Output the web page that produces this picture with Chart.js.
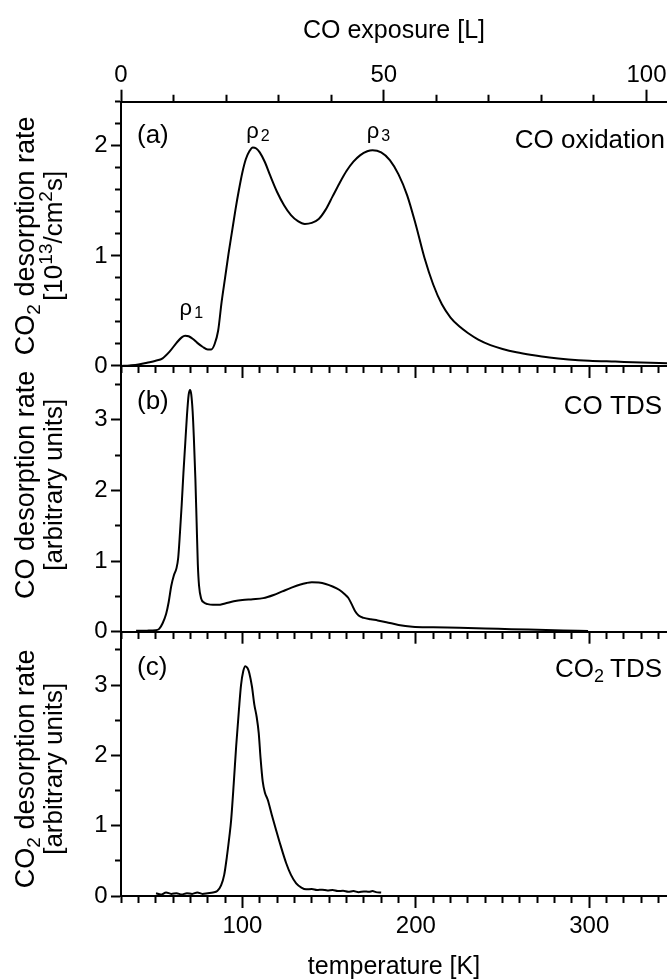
<!DOCTYPE html>
<html><head><meta charset="utf-8">
<script src="https://cdn.jsdelivr.net/npm/chart.js@4.4.0/dist/chart.umd.min.js"></script>
<style>
html,body{margin:0;padding:0;background:#fff;}
#wrap{position:relative;width:667px;height:980px;overflow:hidden;background:#fff;}
canvas{position:absolute;left:0;top:0;}
</style></head><body><div id="wrap">
<canvas id="c1" width="667" height="980"></canvas>
<canvas id="c2" width="667" height="980"></canvas>
<canvas id="c3" width="667" height="980"></canvas>
</div>
<script>
// ---------- data ----------
const oxTemp = [30,35,40,45,50,54,58,62,65,67,69,71.5,74,77,80,82,84,86,88,90,92,94,96,98,100,102,104,106,108,110,113,116,120,124,128,132,136,140,144,148,152,156,160,164,168,172,175,180,185,190,195,200,205,210,215,220,225,230,236,243,250,258,267,277,288,300,315,330,345];
const oxRate = [0,0.005,0.013,0.03,0.048,0.07,0.13,0.21,0.26,0.275,0.27,0.245,0.21,0.175,0.15,0.15,0.20,0.32,0.58,0.80,1.02,1.22,1.42,1.60,1.76,1.88,1.95,1.985,1.975,1.94,1.85,1.73,1.58,1.46,1.37,1.315,1.29,1.30,1.335,1.42,1.54,1.66,1.77,1.855,1.915,1.95,1.96,1.94,1.87,1.74,1.55,1.28,0.98,0.74,0.56,0.44,0.36,0.30,0.24,0.19,0.155,0.125,0.10,0.077,0.06,0.048,0.04,0.032,0.025];

const coTemp = [38.7,45,50,52,54,56,57.5,59,60.5,62,63,64,65,66,67,68,69,69.8,70.5,71.3,72,72.9,73.6,74.3,75,76.2,78,80,83,86,90,95,100,106,112,118,123,128,133,137,140,144,148,152,156,159,161,163,165,167,170,174,178,183,190,198,210,225,240,255,270,285,299.3];
const coRate = [0.012,0.015,0.02,0.04,0.12,0.25,0.42,0.65,0.80,0.90,1.05,1.40,1.80,2.25,2.65,3.05,3.35,3.42,3.36,3.12,2.75,2.15,1.55,0.95,0.65,0.47,0.41,0.39,0.38,0.38,0.40,0.43,0.45,0.46,0.475,0.52,0.57,0.62,0.665,0.69,0.70,0.695,0.675,0.64,0.59,0.53,0.48,0.39,0.29,0.23,0.195,0.175,0.16,0.135,0.095,0.07,0.062,0.055,0.046,0.036,0.027,0.018,0.01];

const co2Temp = [50.2,53,56,59,62,65,68,71,74,77,80,83,85.5,87.7,89.5,91,92.5,93.5,95,96.4,98,99.2,100.5,101.7,103,104,105.5,106.9,108.2,109.4,110.5,111.7,113,114.6,117,119.4,122,125.2,128,131,134,136.7,140,143,146,149,152,155,158,161,164,167,170,173,175,177,180];
const co2Rate = [0.04,0.02,0.05,0.03,0.04,0.02,0.04,0.03,0.05,0.03,0.04,0.05,0.07,0.15,0.30,0.55,0.85,1.08,1.6,2.13,2.65,3.0,3.2,3.27,3.24,3.17,2.98,2.72,2.55,2.32,1.95,1.63,1.47,1.37,1.15,0.94,0.72,0.47,0.30,0.18,0.12,0.095,0.10,0.085,0.09,0.08,0.085,0.07,0.075,0.06,0.07,0.055,0.065,0.06,0.07,0.055,0.05];

const tempLabels = [100, 200, 300];
const exposureLabels = [0, 50, 100];
const rateLabelsA = [0, 1, 2];
const rateLabelsBC = [0, 1, 2, 3];

// ---------- helpers ----------
const FAM = '"Liberation Sans", Arial, sans-serif';
const pts = (xs, ys) => xs.map((x, i) => ({x, y: ys[i]}));
const lineStyle = {borderColor:'#000', borderWidth:2, pointRadius:0, fill:false, cubicInterpolationMode:'monotone', xAxisID:'x', yAxisID:'y'};
const isInt = v => Math.abs(v - Math.round(v)) < 1e-6;
const inList = (list, v) => list.some(l => Math.abs(l - v) < 1e-6);
const fmt = v => String(Math.round(v));

function tempAxis(withLabels, height) {
  return {
    type:'linear', position:'bottom', min:30, max:344.8,
    ticks:{stepSize:10, includeBounds:false, autoSkip:false, maxRotation:0, display:withLabels,
      padding:3.5, color:'#000', font:{family:FAM, size:24},
      callback: v => inList(tempLabels, v) ? fmt(v) : ''},
    grid:{drawOnChartArea:false, drawTicks:true, tickLength:12, tickWidth:2, tickColor:'#000',
      tickBorderDash: c => (c.tick && isInt(c.tick.value / 100)) ? [] : [6, 30]},
    border:{display:true, color:'#000', width:2},
    title: withLabels ? {display:true, text:'temperature [K]', color:'#000', font:{family:FAM, size:25, lineHeight:1}, padding:{top:0, bottom:0}} : {display:false},
    afterFit: s => { s.height = height; }
  };
}
function exposureAxis() {
  return {
    type:'linear', position:'top', min:0, max:103.9,
    ticks:{stepSize:10, includeBounds:false, autoSkip:false, maxRotation:0, padding:0, color:'#000', font:{family:FAM, size:24},
      callback: v => inList(exposureLabels, v) ? fmt(v) : ''},
    grid:{drawOnChartArea:false, drawTicks:true, tickLength:12, tickWidth:2, tickColor:'#000',
      tickBorderDash: c => (c.tick && isInt(c.tick.value / 50)) ? [] : [0, 5, 20, 0]},
    border:{display:true, color:'#000', width:2},
    title:{display:true, text:'CO exposure [L]', color:'#000', font:{family:FAM, size:25, lineHeight:1}, padding:{top:19, bottom:0}},
    afterFit: s => { s.height = 101.7; }
  };
}
function rateAxis(max, step, labels) {
  return {
    type:'linear', position:'left', min:0, max:max,
    ticks:{stepSize:step, includeBounds:false, autoSkip:false, padding:3.5, color:'#000', font:{family:FAM, size:24},
      callback: v => inList(labels, v) ? fmt(v) : ''},
    grid:{drawOnChartArea:false, drawTicks:true, tickLength:10, tickWidth:2, tickColor:'#000',
      tickBorderDash: c => (c.tick && isInt(c.tick.value)) ? [] : [0, 4, 20, 0]},
    border:{display:true, color:'#000', width:2},
    afterFit: s => { s.width = 121; }
  };
}

function richText(ctx, parts, x, y, opt) {
  opt = opt || {};
  ctx.save();
  ctx.translate(x, y);
  if (opt.rot) ctx.rotate(opt.rot);
  ctx.fillStyle = '#000';
  ctx.textBaseline = 'alphabetic';
  ctx.textAlign = 'left';
  let total = 0;
  const ws = parts.map(p => { ctx.font = p.size + 'px ' + FAM; const w = ctx.measureText(p.t).width + (p.gap || 0); total += w; return w; });
  let cx = opt.align === 'left' ? 0 : opt.align === 'right' ? -total : -total / 2;
  parts.forEach((p, i) => { ctx.font = p.size + 'px ' + FAM; ctx.fillText(p.t, cx, p.dy || 0); cx += ws[i]; });
  ctx.restore();
}

function panelPlugin(cfg) {
  return {
    id: 'panelText',
    afterDraw(chart) {
      const ctx = chart.ctx, a = chart.chartArea, cy = (a.top + a.bottom) / 2;
      richText(ctx, cfg.title1, 34, cy + cfg.tShift, {rot:-Math.PI / 2});
      richText(ctx, cfg.title2, 62, cy + cfg.tShift, {rot:-Math.PI / 2});
      richText(ctx, [{t:cfg.tag, size:26}], a.left + 16, a.top + cfg.tagDy, {align:'left'});
      richText(ctx, cfg.name, a.right - cfg.nameDx, a.top + cfg.nameDy, {align:'right'});
      const xs = chart.scales.x, ys = chart.scales.y;
      (cfg.peaks || []).forEach(pk => {
        richText(ctx, [{t:'\u03C1', size:22, gap:2}, {t:pk.n, size:16, dy:3}],
          xs.getPixelForValue(pk.T), ys.getPixelForValue(pk.v), {align:'left'});
      });
    }
  };
}

function makeChart(id, dataPts, padding, xAxis, extraScales, yAxis, cfg) {
  const scales = Object.assign({x: xAxis, y: yAxis}, extraScales);
  return new Chart(document.getElementById(id), {
    type:'line',
    data:{datasets:[Object.assign({data:dataPts}, lineStyle)]},
    options:{
      responsive:false, animation:false, devicePixelRatio:1,
      layout:{padding:padding},
      plugins:{legend:{display:false}, tooltip:{enabled:false}},
      scales:scales
    },
    plugins:[panelPlugin(cfg)]
  });
}

const big = 27, small = 19;
const co2Title = [{t:'CO', size:big}, {t:'2', size:small, dy:6}, {t:' desorption rate', size:big}];
const arbTitle = [{t:'[arbitrary units]', size:26}];

makeChart('c1', pts(oxTemp, oxRate), {left:0, right:0, top:0, bottom:600},
  tempAxis(false, 14), {x2: exposureAxis()}, rateAxis(2.4, 0.2, rateLabelsA),
  {title1: co2Title,
   title2: [{t:'[10', size:26}, {t:'13', size:small, dy:-10}, {t:'/cm', size:26}, {t:'2', size:small, dy:-10}, {t:'s]', size:26}],
   tShift:2, tag:'(a)', tagDy:41, name:[{t:'CO oxidation', size:26}], nameDx:2, nameDy:46,
   peaks:[{n:'1', T:63.8, v:0.46}, {n:'2', T:102.2, v:2.074}, {n:'3', T:171.7, v:2.074}]});

makeChart('c2', pts(coTemp, coRate), {left:0, right:0, top:366, bottom:334.3},
  tempAxis(false, 14), {}, rateAxis(3.76, 0.5, rateLabelsBC),
  {title1: [{t:'CO desorption rate', size:big}], title2: arbTitle,
   tShift:-14, tag:'(b)', tagDy:43, name:[{t:'CO TDS', size:26}], nameDx:5, nameDy:48});

makeChart('c3', pts(co2Temp, co2Rate), {left:0, right:0, top:631.7, bottom:0},
  tempAxis(true, 84), {}, rateAxis(3.76, 0.5, rateLabelsBC),
  {title1: co2Title, title2: arbTitle,
   tShift:5, tag:'(c)', tagDy:43, name:[{t:'CO', size:26}, {t:'2', size:18, dy:5, gap:6}, {t:'TDS', size:26}], nameDx:5, nameDy:45});
</script>
</body></html>
